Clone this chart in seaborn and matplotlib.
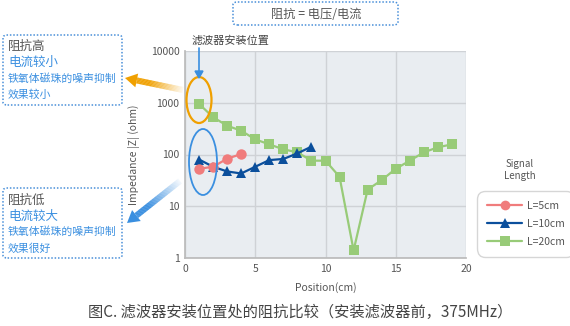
import numpy as np
import pandas as pd
import matplotlib
matplotlib.use("Agg")
import matplotlib.pyplot as plt
import seaborn as sns
from matplotlib.patches import Ellipse, FancyBboxPatch, Polygon
from matplotlib.lines import Line2D
from matplotlib.colors import to_rgb

# ---- data ----
pos_5 = [1, 2, 3, 4]
z_5 = [53, 58, 83, 102]
pos_10 = [1, 2, 3, 4, 5, 6, 7, 8, 9]
z_10 = [80, 58, 47, 43, 58, 78, 82, 105, 142]
pos_20 = list(range(1, 20))
z_20 = [950, 525, 360, 288, 196, 157, 126, 110, 76, 76, 37, 1.4, 21, 32, 53, 76, 110, 138, 157]
series_names = ["L=5cm", "L=10cm", "L=20cm"]
x_ticks = [0, 5, 10, 15, 20]
y_ticks = [1, 10, 100, 1000, 10000]
y_tick_labels = ["1", "10", "100", "1000", "10000"]

df = pd.concat([
    pd.DataFrame({"Position": pos_5, "Z": z_5, "Signal": series_names[0]}),
    pd.DataFrame({"Position": pos_10, "Z": z_10, "Signal": series_names[1]}),
    pd.DataFrame({"Position": pos_20, "Z": z_20, "Signal": series_names[2]}),
])

sns.set_theme(style="white")
plt.rcParams['font.family'] = ['Noto Sans CJK SC', 'DejaVu Sans']

W, H = 570, 326
fig = plt.figure(figsize=(W / 100, H / 100), dpi=100)
def fx(x): return x / W
def fy(y): return 1 - y / H

ax = fig.add_axes([fx(185), fy(258), fx(466) - fx(185), fy(51) - fy(258)])
ax.set_facecolor("#e9edf1")

colors = {"L=5cm": "#f07c7c", "L=10cm": "#0b4f9c", "L=20cm": "#98cb78"}
markers = {"L=5cm": "o", "L=10cm": "^", "L=20cm": "s"}
sns.lineplot(data=df, x="Position", y="Z", hue="Signal", style="Signal",
             palette=colors, markers=markers, dashes=False, ax=ax,
             linewidth=1.6, markersize=7.5, markeredgewidth=0, legend=False,
             hue_order=series_names[::-1], style_order=series_names[::-1], zorder=3)

ax.set_yscale("log")
ax.set_ylim(1, 10000)
ax.set_xlim(0, 20)
ax.set_xticks(x_ticks)
ax.set_yticks(y_ticks)
ax.set_yticklabels(y_tick_labels)
ax.minorticks_off()
ax.grid(True, color="#cfd2d6", linewidth=1)
ax.set_axisbelow(True)
ax.tick_params(length=0, labelsize=7.5, colors="#555555", pad=4)
for s in ["top", "right"]:
    ax.spines[s].set_visible(False)
for s in ["left", "bottom"]:
    ax.spines[s].set_color("#bbbbbb")
ax.set_xlabel("Position(cm)", fontsize=7.5, color="#555555", labelpad=6)
ax.set_ylabel("Impedance |Z| (ohm)", fontsize=7.5, color="#555555", labelpad=8)

# legend
handles = [Line2D([0], [0], color=colors[n], marker=markers[n], markersize=7,
                  markeredgewidth=0, linewidth=1.6) for n in series_names]
leg = fig.legend(handles, series_names, loc="upper left",
                 bbox_to_anchor=(fx(474), fy(188)), frameon=True, fontsize=7.5,
                 handlelength=3.4, labelspacing=0.75, borderpad=0.75, handletextpad=0.4)
leg.get_frame().set_edgecolor("#cccccc")
leg.get_frame().set_linewidth(1)
leg.get_frame().set_boxstyle("round", pad=0.2, rounding_size=0.8)
for t in leg.get_texts():
    t.set_color("#555555")
fig.text(fx(520), fy(170), "Signal\nLength", ha="center", va="center",
         fontsize=7, color="#555555", linespacing=1.35)

# ellipses
fig.patches.append(Ellipse((fx(199), fy(100)), fx(25), 46 / H, fill=False,
                           edgecolor="#f0a000", linewidth=1.6, transform=fig.transFigure))
fig.patches.append(Ellipse((fx(203), fy(162)), fx(28), 66 / H, fill=False,
                           edgecolor="#3a8fe0", linewidth=1.3, transform=fig.transFigure))

# label for filter position
fig.text(fx(230), fy(40), "滤波器安装位置", ha="center", va="center", fontsize=8, color="#444444")
fig.add_artist(plt.Line2D([fx(199), fx(199)], [fy(48), fy(72)], color="#3a8fe0",
                          linewidth=1.2, transform=fig.transFigure))
fig.patches.append(Polygon([(fx(195), fy(71)), (fx(203), fy(71)), (fx(199), fy(78))],
                           closed=True, color="#3a8fe0", transform=fig.transFigure))

# gradient arrows (blend to white, opaque, to avoid striping)
def grad_arrow(tail, head, color, width_px, head_w, head_l):
    c = np.array(to_rgb(color))
    white = np.ones(3)
    tx, ty = tail
    hx, hy = head
    d = np.array([hx - tx, hy - ty], dtype=float)
    L = np.hypot(*d)
    u = d / L
    n = np.array([-u[1], u[0]])
    base = np.array([hx, hy]) - u * head_l
    t0 = np.array([tx, ty], dtype=float)
    nseg = 60
    for i in range(nseg):
        a0 = i / nseg
        a1 = min(1.0, (i + 1.3) / nseg)
        p0 = t0 + (base - t0) * a0
        p1 = t0 + (base - t0) * a1
        pts = [p0 + n * width_px / 2, p1 + n * width_px / 2, p1 - n * width_px / 2, p0 - n * width_px / 2]
        a = min(1.0, 0.05 + 1.3 * (i + 0.5) / nseg)
        col = white * (1 - a) + c * a
        fig.patches.append(Polygon([(fx(p[0]), fy(p[1])) for p in pts], closed=True,
                                   facecolor=col, edgecolor="none",
                                   transform=fig.transFigure))
    hp = [base + n * head_w / 2, np.array([hx, hy]), base - n * head_w / 2]
    fig.patches.append(Polygon([(fx(p[0]), fy(p[1])) for p in hp], closed=True,
                               facecolor=color, edgecolor="none", transform=fig.transFigure))

grad_arrow((183, 90), (125, 78), "#f0a000", 6, 14, 12)
grad_arrow((180, 181), (127, 223), "#3a8fe0", 6, 14, 12)

# text boxes
def dotted_box(x0, y0, x1, y1):
    fig.patches.append(FancyBboxPatch((fx(x0), fy(y1)), fx(x1) - fx(x0), fy(y0) - fy(y1),
                                      boxstyle="round,pad=0,rounding_size=0.008",
                                      fill=True, facecolor="white", edgecolor="#4a90d9",
                                      linewidth=1.1, linestyle=(0, (1, 1.2)),
                                      transform=fig.transFigure))

dotted_box(233, 2, 398, 25)
fig.text(fx(316), fy(14), "阻抗 = 电压/电流", ha="center", va="center", fontsize=8.8, color="#555555")

dotted_box(3, 35, 122, 105)
fig.text(fx(8), fy(46), "阻抗高", ha="left", va="center", fontsize=9, color="#555555")
fig.text(fx(8), fy(62), "电流较小", ha="left", va="center", fontsize=9, color="#3a8fe0")
fig.text(fx(8), fy(79), "铁氧体磁珠的噪声抑制", ha="left", va="center", fontsize=7.8, color="#3a8fe0")
fig.text(fx(8), fy(95), "效果较小", ha="left", va="center", fontsize=7.8, color="#3a8fe0")

dotted_box(3, 188, 122, 258)
fig.text(fx(8), fy(200), "阻抗低", ha="left", va="center", fontsize=9, color="#555555")
fig.text(fx(8), fy(216), "电流较大", ha="left", va="center", fontsize=9, color="#3a8fe0")
fig.text(fx(8), fy(232), "铁氧体磁珠的噪声抑制", ha="left", va="center", fontsize=7.8, color="#3a8fe0")
fig.text(fx(8), fy(249), "效果很好", ha="left", va="center", fontsize=7.8, color="#3a8fe0")

# caption
fig.text(fx(300), fy(312), "图C. 滤波器安装位置处的阻抗比较（安装滤波器前，375MHz）",
         ha="center", va="center", fontsize=11, color="#444444")

fig.savefig("out.png", dpi=100, facecolor="white")
